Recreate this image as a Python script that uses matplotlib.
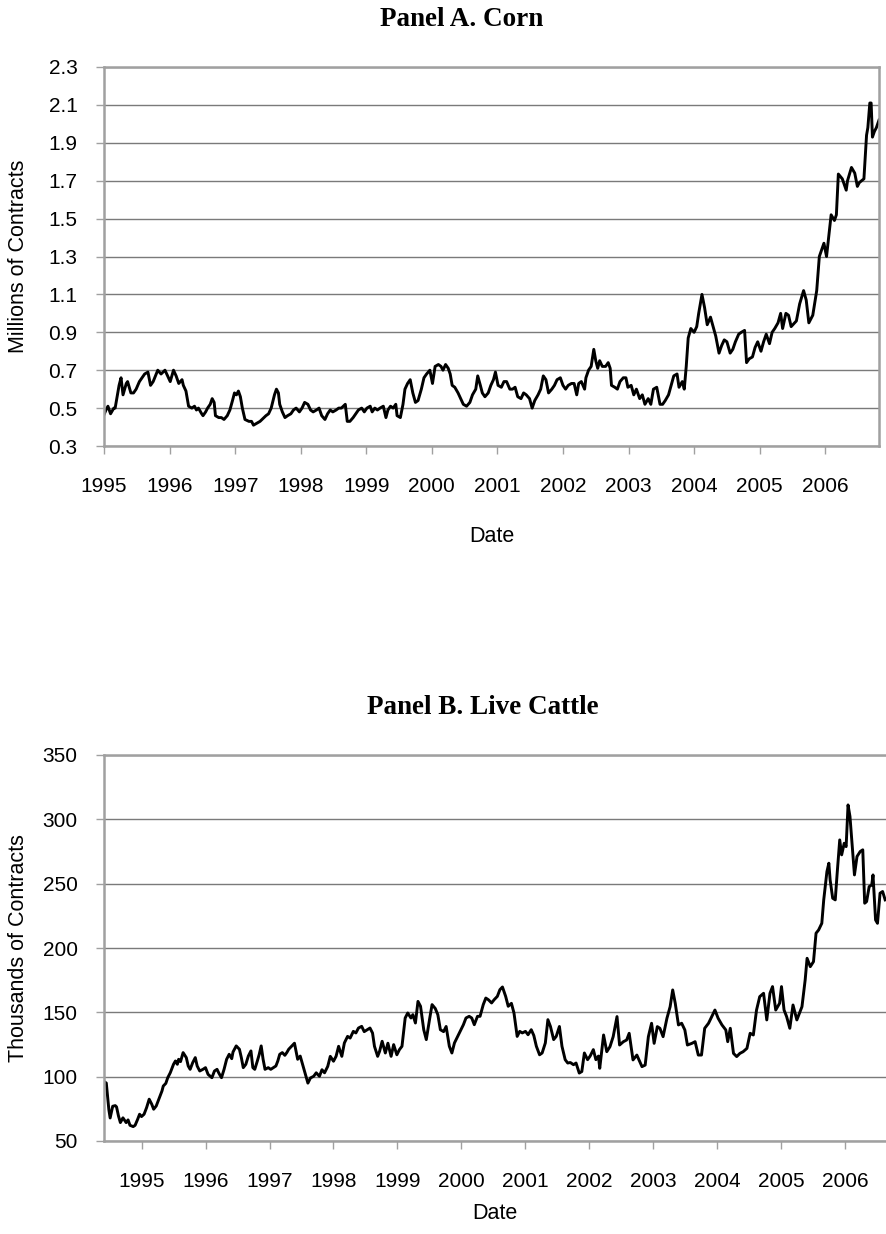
import matplotlib.pyplot as plt

plt.rcParams['font.family'] = ['Liberation Sans', 'DejaVu Sans']

# Panel A: corn open interest (millions of contracts), time in fractional years
corn_t = [
    1995.00, 1995.03, 1995.06, 1995.10, 1995.15, 1995.17, 1995.21, 1995.23, 1995.26, 1995.29,
    1995.34, 1995.36, 1995.41, 1995.45, 1995.49, 1995.54, 1995.58, 1995.62, 1995.67, 1995.71,
    1995.75, 1995.82, 1995.87, 1995.93, 1995.97, 1996.01, 1996.06, 1996.10, 1996.14, 1996.19,
    1996.21, 1996.25, 1996.29, 1996.34, 1996.38, 1996.41, 1996.44, 1996.49, 1996.51, 1996.55,
    1996.58, 1996.62, 1996.65, 1996.68, 1996.70, 1996.75, 1996.79, 1996.83, 1996.88, 1996.92,
    1996.96, 1996.99, 1997.02, 1997.05, 1997.08, 1997.11, 1997.15, 1997.21, 1997.25, 1997.28,
    1997.33, 1997.38, 1997.41, 1997.47, 1997.51, 1997.55, 1997.60, 1997.63, 1997.66, 1997.68,
    1997.72, 1997.76, 1997.80, 1997.85, 1997.89, 1997.93, 1997.98, 1998.02, 1998.06, 1998.11,
    1998.15, 1998.19, 1998.24, 1998.28, 1998.32, 1998.37, 1998.41, 1998.45, 1998.49, 1998.54,
    1998.58, 1998.62, 1998.68, 1998.71, 1998.75, 1998.80, 1998.84, 1998.88, 1998.93, 1998.97,
    1999.01, 1999.06, 1999.09, 1999.13, 1999.17, 1999.21, 1999.26, 1999.30, 1999.33, 1999.37,
    1999.41, 1999.45, 1999.47, 1999.52, 1999.56, 1999.59, 1999.63, 1999.67, 1999.71, 1999.75,
    1999.79, 1999.84, 1999.88, 1999.92, 1999.97, 2000.01, 2000.05, 2000.10, 2000.14, 2000.17,
    2000.21, 2000.25, 2000.28, 2000.31, 2000.35, 2000.40, 2000.44, 2000.48, 2000.53, 2000.58,
    2000.62, 2000.67, 2000.70, 2000.74, 2000.77, 2000.81, 2000.86, 2000.90, 2000.94, 2000.97,
    2001.01, 2001.06, 2001.10, 2001.14, 2001.19, 2001.23, 2001.27, 2001.31, 2001.36, 2001.40,
    2001.44, 2001.49, 2001.53, 2001.57, 2001.62, 2001.66, 2001.70, 2001.74, 2001.78, 2001.83,
    2001.87, 2001.91, 2001.96, 2002.00, 2002.04, 2002.08, 2002.13, 2002.17, 2002.21, 2002.24,
    2002.28, 2002.33, 2002.35, 2002.39, 2002.43, 2002.47, 2002.50, 2002.53, 2002.56, 2002.60,
    2002.65, 2002.69, 2002.72, 2002.74, 2002.79, 2002.83, 2002.87, 2002.92, 2002.96, 2002.99,
    2003.04, 2003.08, 2003.12, 2003.17, 2003.21, 2003.25, 2003.30, 2003.34, 2003.38, 2003.43,
    2003.48, 2003.52, 2003.56, 2003.61, 2003.65, 2003.69, 2003.74, 2003.77, 2003.82, 2003.85,
    2003.88, 2003.91, 2003.95, 2004.00, 2004.04, 2004.07, 2004.12, 2004.16, 2004.20, 2004.25,
    2004.29, 2004.33, 2004.38, 2004.42, 2004.46, 2004.50, 2004.55, 2004.59, 2004.63, 2004.68,
    2004.72, 2004.77, 2004.80, 2004.84, 2004.89, 2004.93, 2004.97, 2005.02, 2005.06, 2005.10,
    2005.15, 2005.19, 2005.23, 2005.28, 2005.32, 2005.35, 2005.40, 2005.44, 2005.48, 2005.56,
    2005.61, 2005.67, 2005.71, 2005.75, 2005.81, 2005.87, 2005.91, 2005.98, 2006.02, 2006.09,
    2006.14, 2006.17, 2006.20, 2006.26, 2006.32, 2006.34, 2006.40, 2006.45, 2006.49, 2006.52,
    2006.59, 2006.63, 2006.65, 2006.68, 2006.70, 2006.72, 2006.75, 2006.78, 2006.82,
]
corn_v = [
    0.465, 0.49, 0.51, 0.47, 0.50, 0.50, 0.58, 0.62, 0.66, 0.57,
    0.63, 0.64, 0.58, 0.58, 0.60, 0.64, 0.66, 0.68, 0.69, 0.62,
    0.64, 0.70, 0.68, 0.70, 0.67, 0.64, 0.70, 0.67, 0.63, 0.65,
    0.62, 0.59, 0.51, 0.50, 0.51, 0.49, 0.50, 0.47, 0.46, 0.48,
    0.50, 0.52, 0.55, 0.53, 0.46, 0.45, 0.45, 0.44, 0.46, 0.49,
    0.54, 0.58, 0.57, 0.59, 0.56, 0.50, 0.44, 0.43, 0.43, 0.41,
    0.42, 0.43, 0.44, 0.46, 0.47, 0.50, 0.57, 0.60, 0.58, 0.52,
    0.48, 0.45, 0.46, 0.47, 0.49, 0.50, 0.48, 0.50, 0.53, 0.52,
    0.49, 0.48, 0.49, 0.50, 0.46, 0.44, 0.47, 0.49, 0.48, 0.49,
    0.50, 0.50, 0.52, 0.43, 0.43, 0.45, 0.47, 0.49, 0.50, 0.48,
    0.50, 0.51, 0.48, 0.50, 0.49, 0.50, 0.51, 0.45, 0.49, 0.51,
    0.50, 0.52, 0.46, 0.45, 0.52, 0.60, 0.63, 0.65, 0.58, 0.53,
    0.54, 0.60, 0.66, 0.68, 0.70, 0.63, 0.72, 0.73, 0.72, 0.70,
    0.73, 0.71, 0.68, 0.62, 0.61, 0.58, 0.55, 0.52, 0.51, 0.53,
    0.57, 0.60, 0.67, 0.62, 0.58, 0.56, 0.58, 0.62, 0.65, 0.69,
    0.62, 0.61, 0.64, 0.64, 0.60, 0.60, 0.61, 0.56, 0.55, 0.58,
    0.57, 0.55, 0.50, 0.54, 0.57, 0.60, 0.67, 0.65, 0.58, 0.60,
    0.62, 0.65, 0.66, 0.62, 0.60, 0.62, 0.63, 0.63, 0.57, 0.63,
    0.64, 0.60, 0.66, 0.70, 0.72, 0.81, 0.75, 0.71, 0.75, 0.72,
    0.72, 0.74, 0.71, 0.62, 0.61, 0.60, 0.64, 0.66, 0.66, 0.61,
    0.62, 0.57, 0.60, 0.55, 0.57, 0.52, 0.55, 0.52, 0.60, 0.61,
    0.52, 0.52, 0.54, 0.57, 0.62, 0.67, 0.68, 0.61, 0.64, 0.60,
    0.72, 0.87, 0.92, 0.90, 0.93, 1.00, 1.10, 1.03, 0.94, 0.98,
    0.93, 0.88, 0.79, 0.83, 0.86, 0.85, 0.79, 0.81, 0.85, 0.89,
    0.90, 0.91, 0.74, 0.76, 0.77, 0.82, 0.85, 0.80, 0.85, 0.89,
    0.84, 0.90, 0.92, 0.95, 1.00, 0.92, 1.00, 0.99, 0.93, 0.96,
    1.05, 1.12, 1.07, 0.95, 0.99, 1.12, 1.30, 1.37, 1.30, 1.52,
    1.49, 1.52, 1.735, 1.71, 1.65, 1.70, 1.77, 1.74, 1.67, 1.69,
    1.71, 1.94, 1.98, 2.11, 2.11, 1.93, 1.96, 1.98, 2.02,
]

# Panel B: live cattle open interest (thousands of contracts); series begins mid-1994
cattle_t = [
    1994.41, 1994.45, 1994.49, 1994.51, 1994.55, 1994.59, 1994.61, 1994.64, 1994.67, 1994.71,
    1994.76, 1994.79, 1994.82, 1994.87, 1994.90, 1994.94, 1994.97, 1995.00, 1995.04, 1995.08,
    1995.12, 1995.16, 1995.19, 1995.23, 1995.28, 1995.32, 1995.34, 1995.38, 1995.41, 1995.45,
    1995.47, 1995.50, 1995.53, 1995.56, 1995.58, 1995.61, 1995.65, 1995.70, 1995.73, 1995.76,
    1995.80, 1995.84, 1995.87, 1995.91, 1995.96, 1996.00, 1996.04, 1996.10, 1996.14, 1996.18,
    1996.21, 1996.25, 1996.29, 1996.33, 1996.37, 1996.41, 1996.43, 1996.48, 1996.53, 1996.56,
    1996.59, 1996.63, 1996.67, 1996.71, 1996.74, 1996.77, 1996.81, 1996.84, 1996.87, 1996.90,
    1996.93, 1996.98, 1997.02, 1997.06, 1997.10, 1997.13, 1997.16, 1997.20, 1997.24, 1997.27,
    1997.30, 1997.35, 1997.39, 1997.42, 1997.44, 1997.48,
    1997.60, 1997.64, 1997.69, 1997.73, 1997.78, 1997.82, 1997.86, 1997.91, 1997.95, 1998.00,
    1998.04, 1998.08, 1998.13, 1998.17, 1998.22, 1998.26, 1998.31, 1998.35, 1998.39, 1998.44,
    1998.48, 1998.53, 1998.57, 1998.61, 1998.64, 1998.69, 1998.72, 1998.76, 1998.81, 1998.85,
    1998.90, 1998.94, 1998.99, 1999.03, 1999.07, 1999.12, 1999.16, 1999.21, 1999.24, 1999.28,
    1999.32, 1999.36, 1999.41, 1999.45, 1999.50, 1999.54, 1999.59, 1999.63, 1999.67, 1999.72,
    1999.76, 1999.81, 1999.85, 1999.89, 1999.94, 1999.98, 2000.03, 2000.07, 2000.12, 2000.16,
    2000.20, 2000.25, 2000.29, 2000.34, 2000.38, 2000.42, 2000.47, 2000.51, 2000.56, 2000.60,
    2000.64, 2000.69, 2000.73, 2000.78, 2000.82, 2000.87, 2000.91, 2000.95, 2001.00, 2001.04,
    2001.09, 2001.13, 2001.17, 2001.22, 2001.26, 2001.31, 2001.35, 2001.39, 2001.44, 2001.48,
    2001.53, 2001.57, 2001.62, 2001.66, 2001.70, 2001.75, 2001.79, 2001.84, 2001.88, 2001.92,
    2001.97, 2002.01, 2002.06, 2002.10, 2002.14,
    2002.16, 2002.22, 2002.27, 2002.32, 2002.37, 2002.43, 2002.47, 2002.53, 2002.58, 2002.62,
    2002.68, 2002.74, 2002.82, 2002.87, 2002.92, 2002.97, 2003.01, 2003.06, 2003.10, 2003.15,
    2003.21, 2003.26, 2003.30, 2003.34, 2003.39, 2003.44, 2003.49, 2003.53, 2003.60, 2003.65,
    2003.70, 2003.75, 2003.80, 2003.86, 2003.91, 2003.96, 2004.01, 2004.07, 2004.13, 2004.16,
    2004.20, 2004.25, 2004.30, 2004.35, 2004.40, 2004.46, 2004.51, 2004.56, 2004.61, 2004.66,
    2004.72, 2004.77, 2004.82, 2004.86, 2004.91, 2004.97, 2005.00, 2005.04, 2005.08, 2005.13,
    2005.18, 2005.24, 2005.32, 2005.37, 2005.40, 2005.45, 2005.50, 2005.54, 2005.58, 2005.63,
    2005.66, 2005.71, 2005.74, 2005.76, 2005.80, 2005.84, 2005.87, 2005.91, 2005.94, 2005.98,
    2006.01, 2006.04, 2006.07, 2006.11, 2006.14, 2006.18, 2006.23, 2006.27, 2006.30, 2006.33,
    2006.37, 2006.41, 2006.43, 2006.47, 2006.50, 2006.54, 2006.58, 2006.62,
]
cattle_v = [
    96.4, 95.0, 74.3, 67.9, 77.0, 77.5, 76.5, 69.5, 64.3, 68.0,
    64.3, 66.4, 62.2, 61.2, 62.2, 66.9, 70.8, 69.0, 70.8, 76.0,
    82.5, 78.6, 74.7, 77.2, 83.7, 88.9, 92.7, 94.8, 99.2, 103.1,
    105.7, 109.6, 112.2, 109.6, 113.5, 111.7, 118.7, 114.8, 108.3, 105.7,
    110.9, 114.8, 108.3, 104.4, 105.7, 107.0, 101.8, 99.2, 104.4, 105.7,
    102.6, 99.2, 105.7, 113.5, 117.4, 114.0, 119.2, 123.9, 121.3, 114.8,
    107.0, 109.6, 116.1, 120.0, 107.0, 105.7, 112.2, 117.4, 123.9, 113.5,
    105.7, 107.0, 105.7, 107.0, 108.3, 112.2, 117.4, 118.7, 116.6, 118.7,
    121.3, 123.9, 126.0, 118.7, 113.5, 116.0,
    95.0, 99.0, 100.3, 103.0, 100.3, 105.4, 103.0, 108.0, 115.8, 112.0,
    115.8, 123.6, 115.8, 126.2, 131.3, 130.0, 135.2, 134.0, 137.8, 139.1,
    135.0, 136.5, 137.8, 133.9, 123.6, 115.8, 119.7, 127.5, 118.4, 126.0,
    115.8, 124.9, 117.0, 121.0, 123.6, 145.6, 149.5, 145.6, 148.2, 141.7,
    158.5, 154.7, 136.5, 128.8, 144.3, 156.0, 153.0, 148.2, 136.5, 135.0,
    139.0, 123.6, 118.4, 126.2, 131.3, 135.2, 140.4, 145.6, 146.9, 145.6,
    140.4, 146.9, 146.9, 156.0, 161.1, 159.8, 157.3, 159.8, 162.4, 167.6,
    169.7, 162.4, 154.7, 157.0, 149.5, 131.3, 135.2, 134.0, 135.2, 132.6,
    136.5, 132.0, 123.6, 117.0, 118.4, 126.2, 144.3, 139.0, 128.8, 131.3,
    139.0, 123.6, 113.2, 110.6, 111.0, 109.3, 110.6, 102.8, 104.0, 118.4,
    113.2, 116.0, 121.0, 113.2, 116.0,
    106.5, 132.4, 119.4, 123.3, 131.1, 146.7, 124.6, 127.2, 128.5, 133.7,
    113.0, 116.8, 107.8, 109.0, 131.1, 141.5, 125.9, 138.9, 137.6, 131.1,
    145.4, 154.4, 167.4, 157.0, 140.2, 141.5, 136.3, 124.6, 125.9, 127.2,
    116.8, 116.8, 137.6, 141.5, 146.7, 151.8, 145.4, 140.2, 136.3, 127.2,
    137.6, 118.1, 115.6, 118.1, 119.4, 122.0, 133.7, 132.4, 151.8, 162.2,
    164.8, 144.1, 164.8, 170.0, 151.8, 157.0, 170.0, 151.8, 146.7, 137.6,
    155.7, 144.1, 154.4, 175.2, 192.0, 185.5, 189.4, 211.5, 214.0, 219.2,
    237.4, 259.4, 265.9, 252.9, 238.7, 237.4, 258.1, 284.0, 272.4, 281.4,
    278.8, 311.2, 302.2, 276.3, 256.8, 271.1, 275.0, 276.3, 234.8, 236.1,
    247.7, 249.0, 256.8, 221.8, 219.2, 242.6, 243.9, 237.4,
]

years = list(range(1995, 2007))

W, H = 886, 1234
GRID = '#7a7a7a'
FRAME = '#a0a0a0'


def style_axes(ax, yticks, ylabel, ylabelpad, xpad, xlabelpad):
    ax.set_yticks(yticks)
    ax.set_ylim(yticks[0], yticks[-1])
    ax.set_xticks(years)
    ax.set_xticklabels([str(y) for y in years])
    ax.yaxis.grid(True, color=GRID, linewidth=1.0)
    ax.set_axisbelow(True)
    for side in ax.spines.values():
        side.set_color(FRAME)
        side.set_linewidth(1.8)
    ax.tick_params(axis='both', direction='out', length=6, width=1.0,
                   color=FRAME, labelsize=15)
    ax.tick_params(axis='y', pad=13)
    ax.tick_params(axis='x', pad=xpad)
    ax.set_ylabel(ylabel, fontsize=15.5, labelpad=ylabelpad)
    ax.set_xlabel('Date', fontsize=15.5, labelpad=xlabelpad)


fig = plt.figure(figsize=(W / 100, H / 100), dpi=100)

axA = fig.add_axes([104 / W, 1 - 446 / H, 775 / W, 379 / H])
axA.plot(corn_t, corn_v, color='black', linewidth=2.1)
axA.set_xlim(1995, 2006.82)
style_axes(axA, [0.3, 0.5, 0.7, 0.9, 1.1, 1.3, 1.5, 1.7, 1.9, 2.1, 2.3],
           'Millions of Contracts', 14, 16, 22)
axA.set_yticklabels(['0.3', '0.5', '0.7', '0.9', '1.1', '1.3', '1.5', '1.7',
                     '1.9', '2.1', '2.3'])

# the cattle chart is wider than the page, so its right side runs off the edge
axB = fig.add_axes([104 / W, 1 - 1141 / H, 782 / W, 386 / H])
axB.plot(cattle_t, cattle_v, color='black', linewidth=2.1)
axB.set_xlim(1994.414, 2006.633)
style_axes(axB, [50, 100, 150, 200, 250, 300, 350], 'Thousands of Contracts',
           10, 16, 9)
axB.spines['right'].set_visible(False)

fig.text(462 / W, 1 - 20 / H, 'Panel A. Corn', ha='center', va='center',
         family=['Liberation Serif'], fontweight='bold', fontsize=19.5)
fig.text(483 / W, 1 - 708 / H, 'Panel B. Live Cattle', ha='center', va='center',
         family=['Liberation Serif'], fontweight='bold', fontsize=19.5)

fig.savefig('out.png', dpi=100)
